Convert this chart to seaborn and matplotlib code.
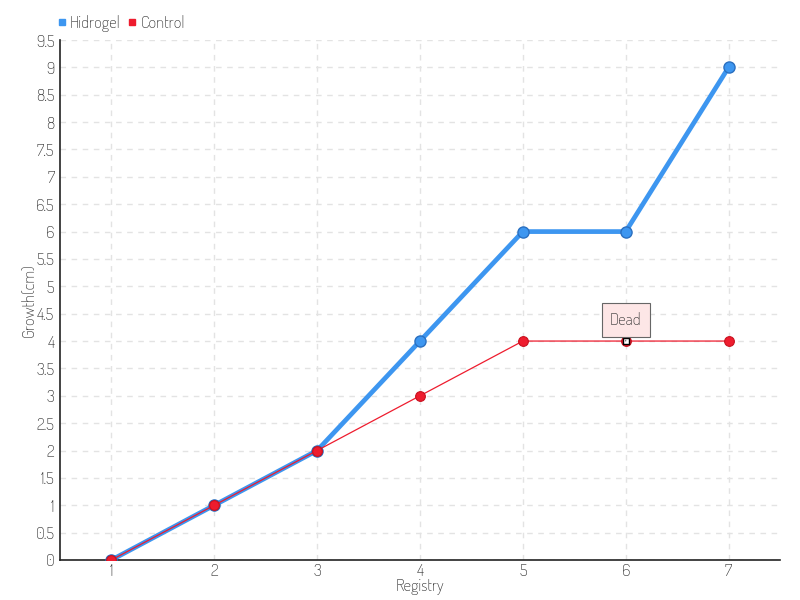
import pandas as pd
import numpy as np
import seaborn as sns
import matplotlib.pyplot as plt

# chart data
registry = [1, 2, 3, 4, 5, 6, 7]
hidrogel = [0, 1, 2, 4, 6, 6, 9]
control = [0, 1, 2, 3, 4, 4, 4]
yticks = [0, 0.5, 1, 1.5, 2, 2.5, 3, 3.5, 4, 4.5, 5, 5.5, 6, 6.5, 7, 7.5, 8, 8.5, 9, 9.5]

blue = '#3d96f0'
red = '#ee1c2e'
txt = '#333333'

sns.set_style('white')
plt.rcParams['font.family'] = ['Dosis', 'Roboto Condensed', 'DejaVu Sans']

df = pd.DataFrame({'Registry': registry * 2,
                   'Growth': hidrogel + control,
                   'Series': ['Hidrogel'] * 7 + ['Control'] * 7})

fig = plt.figure(figsize=(8, 6), dpi=100)
ax = fig.add_axes([0.075, 0.0667, 0.9, 0.8666])

# Hidrogel: thick blue line
sns.lineplot(data=df[df.Series == 'Hidrogel'], x='Registry', y='Growth', ax=ax,
             color=blue, linewidth=3.4, marker='o', markersize=8,
             markeredgecolor='#2a6fc0', markeredgewidth=1, legend=False, zorder=3)
# Control: thin red line
sns.lineplot(data=df[df.Series == 'Control'], x='Registry', y='Growth', ax=ax,
             color=red, linewidth=0.9, marker='o', markersize=7,
             markeredgecolor='#c8101e', markeredgewidth=0.8, legend=False, zorder=4)

# hollow marker for the "Dead" point
ax.plot([registry[5]], [control[5]], marker='s', markersize=4, markerfacecolor='white',
        markeredgecolor='black', markeredgewidth=1, zorder=6)
ax.annotate('Dead', xy=(registry[5], control[5]), xytext=(0, 15), textcoords='offset points',
            ha='center', va='center', fontsize=12, color=txt,
            bbox=dict(boxstyle='square,pad=0.5', fc='#fde6e6', ec='#666666', lw=0.8),
            arrowprops=dict(arrowstyle='-', color='#666666', lw=0.8), zorder=7)

ax.set_xlim(0.5, 7.5)
ax.set_ylim(0, 9.5)
ax.set_xticks(registry)
ax.set_yticks(yticks)
ax.set_yticklabels([f'{v:g}' for v in yticks])
ax.tick_params(axis='both', labelsize=12, labelcolor=txt, length=4, width=1,
               color='#333333', direction='inout', pad=2)
ax.tick_params(axis='x', pad=0)
ax.grid(True, linestyle=(0, (4, 4)), color='#e3e3e3', linewidth=1)
ax.set_axisbelow(True)

for side in ['top', 'right']:
    ax.spines[side].set_visible(False)
for side in ['left', 'bottom']:
    ax.spines[side].set_color('#222222')
    ax.spines[side].set_linewidth(1.2)

ax.set_xlabel('Registry', fontsize=12, color=txt, labelpad=-1)
ax.set_ylabel('Growth(cm)', fontsize=12, color=txt, labelpad=-2)

# legend at top left
handles = [plt.Line2D([], [], marker='s', linestyle='', color=blue, markersize=5),
           plt.Line2D([], [], marker='s', linestyle='', color=red, markersize=5)]
fig.legend(handles, ['Hidrogel', 'Control'], loc='upper left', bbox_to_anchor=(0.052, 1.0),
           ncol=2, frameon=False, fontsize=12, handlelength=0.6, handletextpad=0.2,
           columnspacing=0.4, labelcolor=txt)

fig.savefig('out.png', dpi=100)
